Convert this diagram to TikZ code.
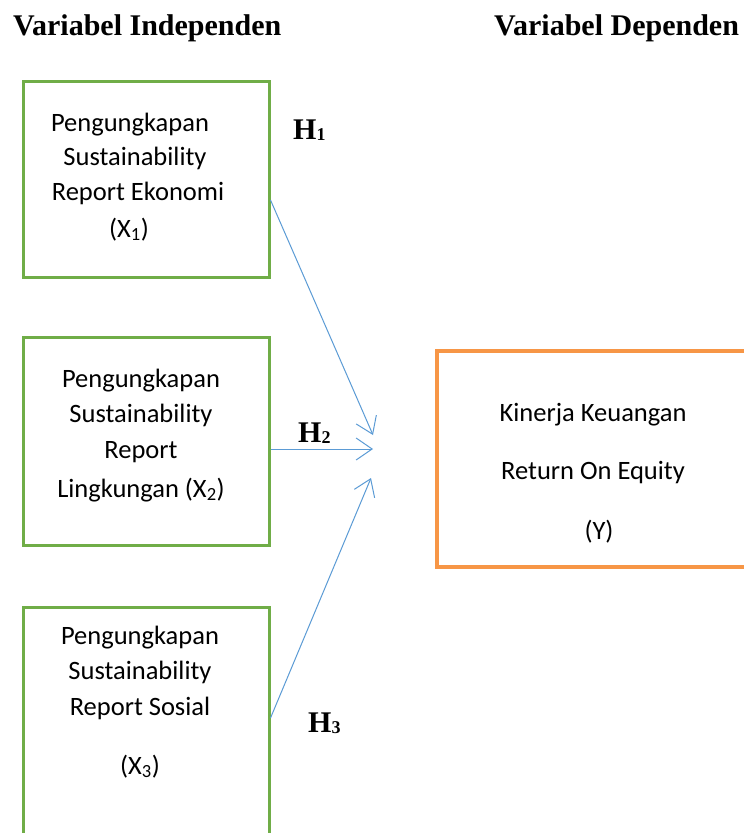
\documentclass[tikz,border=0pt]{standalone}
\usepackage{fontspec}
\setmainfont{Carlito}
\newfontfamily\headfont{Liberation Serif}
\usetikzlibrary{arrows.meta}
\definecolor{boxgreen}{HTML}{70AD47}
\definecolor{boxorange}{HTML}{F79646}
\definecolor{arrowblue}{HTML}{5B9BD5}
\newcommand{\hsub}[1]{\raisebox{-1pt}{\fontsize{18}{18}\selectfont #1}}
\tikzset{
  xbox/.style={draw=boxgreen, line width=3pt, minimum width=246pt, inner sep=0pt},
  ybox/.style={draw=boxorange, line width=4.5pt, minimum width=323pt, minimum height=216pt, inner sep=0pt},
  txt/.style={font=\fontsize{26.5}{32}\selectfont, inner sep=0pt, anchor=base},
  head/.style={font=\headfont\bfseries\fontsize{30}{34}\selectfont, inner sep=0pt, anchor=base west},
  hyp/.style={font=\headfont\bfseries\fontsize{30}{32}\selectfont, inner sep=0pt, anchor=base west},
  link/.style={draw=arrowblue, line width=1pt, -{Straight Barb[length=16pt,width=22pt,line width=1pt]}}
}
\begin{document}
\begin{tikzpicture}[x=1pt,y=-1pt]
\clip (0,0) rectangle (744,833);
\fill[white] (0,0) rectangle (744,833);
% headings
\node[head] (hi) at (13,35) {Variabel Independen};
\node[head] (hd) at (494,35) {Variabel Dependen};
% boxes
\node[xbox, minimum height=196pt] (b1) at (146,179) {};
\node[xbox, minimum height=208pt] (b2) at (146,441) {};
\node[xbox, minimum height=242pt] (b3) at (146,728) {};
\node[ybox] (by) at (598.5,459) {};
% box 1 text
\node[txt] (t11) at (130,131) {Pengungkapan};
\node[txt] (t12) at (135,165) {Sustainability};
\node[txt] (t13) at (138,200) {Report Ekonomi};
\node[txt] (t14) at (129,237) {(X\textsubscript{1})};
% box 2 text
\node[txt] (t21) at (141,387) {Pengungkapan};
\node[txt] (t22) at (141,422) {Sustainability};
\node[txt] (t23) at (141,458) {Report};
\node[txt] (t24) at (141,497) {Lingkungan (X\textsubscript{2})};
% box 3 text
\node[txt] (t31) at (140,644) {Pengungkapan};
\node[txt] (t32) at (140,679) {Sustainability};
\node[txt] (t33) at (140,715) {Report Sosial};
\node[txt] (t34) at (140,774) {(X\textsubscript{3})};
% Y text
\node[txt] (ty1) at (593,421) {Kinerja Keuangan};
\node[txt] (ty2) at (593,479) {Return On Equity};
\node[txt] (ty3) at (599,539) {(Y)};
% hypotheses
\node[hyp] (h1) at (293,139) {H\hsub{1}};
\node[hyp] (h2) at (298,442) {H\hsub{2}};
\node[hyp] (h3) at (308,732) {H\hsub{3}};
% arrow endpoints
\coordinate (s1) at (b1.east |- 0,200);
\coordinate (s2) at (b2.east |- 0,449);
\coordinate (s3) at (b3.east |- 0,718);
\coordinate (e1) at (373,435);
\coordinate (e2) at (373,449);
\coordinate (e3) at (371,478);
\draw[link] (s1) -- (e1);
\draw[link] (s2) -- (e2);
\draw[link] (s3) -- (e3);
\end{tikzpicture}
\end{document}
